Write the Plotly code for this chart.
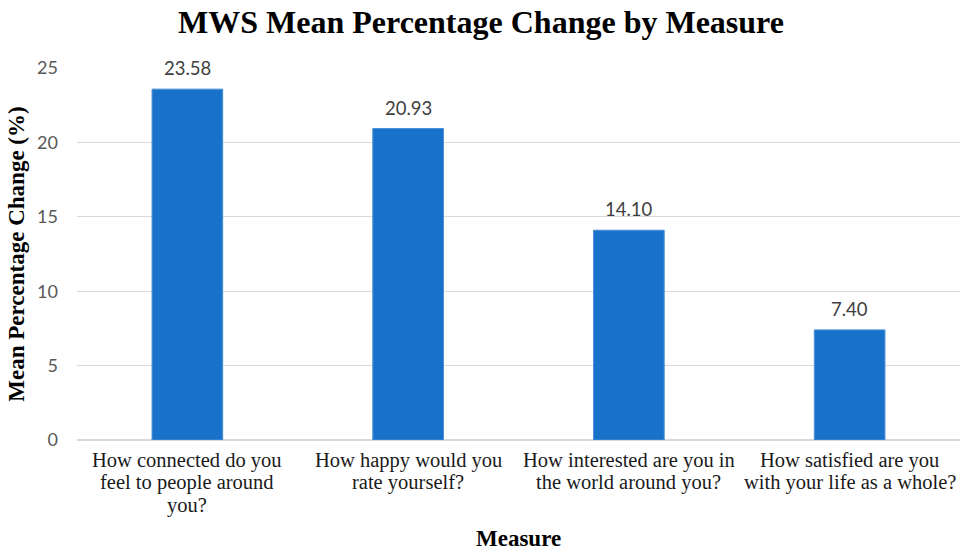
import plotly.graph_objects as go

# Survey items (x-axis categories) and their mean percentage change
measures = [
    "How connected do you<br>feel to people around<br>you?",
    "How happy would you<br>rate yourself?",
    "How interested are you in<br>the world around you?",
    "How satisfied are you<br>with your life as a whole?",
]
mean_change = [23.58, 20.93, 14.10, 7.40]
y_ticks = [0, 5, 10, 15, 20, 25]

SERIF = "Liberation Serif, Times New Roman, serif"
SANS = "Lato, Open Sans, sans-serif"

fig = go.Figure(
    go.Bar(
        x=measures,
        y=mean_change,
        marker=dict(color="#1872CA", line=dict(color="#4A8FD6", width=1)),
        width=0.32,
    )
)

# Value labels placed just above each bar
for m, v in zip(measures, mean_change):
    fig.add_annotation(
        x=m,
        y=v,
        text=f"{v:.2f}",
        showarrow=False,
        yanchor="middle",
        yshift=21,
        font=dict(family=SANS, size=18.5, color="#404040"),
    )

# Category labels drawn line by line for tighter line spacing
for m in measures:
    for i, line in enumerate(m.split("<br>")):
        fig.add_annotation(
            x=m,
            xref="x",
            y=0,
            yref="paper",
            text=line,
            showarrow=False,
            yanchor="middle",
            yshift=-(20 + i * 22.5),
            font=dict(family=SERIF, size=20.5, color="#1a1a1a"),
        )

fig.update_layout(
    width=962,
    height=551,
    margin=dict(l=77, r=2, t=68, b=111),
    paper_bgcolor="white",
    plot_bgcolor="white",
    showlegend=False,
    title=dict(
        text="<b>MWS Mean Percentage Change by Measure</b>",
        font=dict(family=SERIF, size=32, color="black"),
        x=0.5,
        xanchor="center",
        y=0.96,
        yanchor="middle",
    ),
    xaxis=dict(
        automargin=False,
        showticklabels=False,
        showgrid=False,
        showline=True,
        linecolor="#D9D9D9",
        linewidth=1,
        ticks="",
    ),
    yaxis=dict(
        automargin=False,
        range=[0, 25],
        tickvals=y_ticks,
        tickfont=dict(family=SANS, size=18, color="#595959"),
        showgrid=True,
        gridcolor="#D9D9D9",
        gridwidth=1,
        zeroline=True,
        zerolinecolor="#D9D9D9",
        ticks="",
        ticklabelstandoff=18,
        title=dict(
            text="<b>Mean Percentage Change (%)</b>",
            font=dict(family=SERIF, size=23, color="black"),
            standoff=6,
        ),
    ),
)

# X-axis title
fig.add_annotation(
    text="<b>Measure</b>",
    x=0.5,
    xref="paper",
    y=0,
    yref="paper",
    showarrow=False,
    yanchor="middle",
    yshift=-98,
    font=dict(family=SERIF, size=23, color="black"),
)

fig.write_html("out.html")
